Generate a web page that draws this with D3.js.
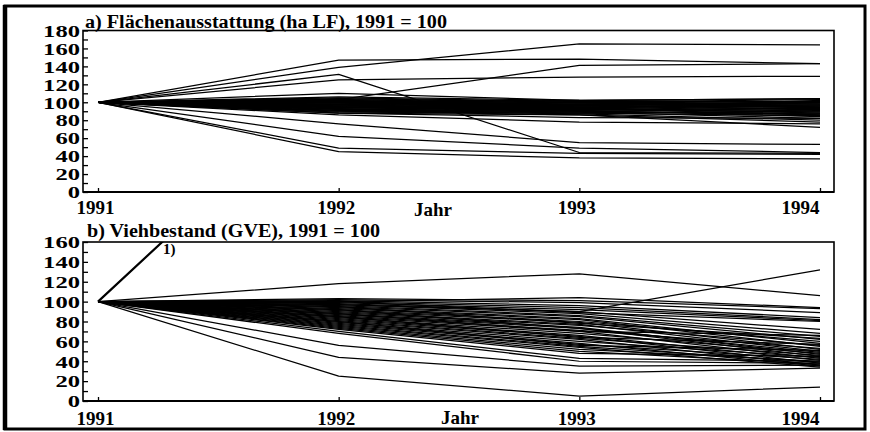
<!DOCTYPE html>
<html>
<head>
<meta charset="utf-8">
<script src="https://cdn.jsdelivr.net/npm/d3@7"></script>
<style>
  body { margin: 0; background: #fff; }
  svg { display: block; }
</style>
</head>
<body>
<svg id="chart" width="870" height="432"></svg>
<script>
// Survey years on the x axis
const years = [1991, 1992, 1993, 1994];

// Tick values of both y axes (labels every 20, marks every 10)
const flaecheTicks = d3.range(0, 181, 10);
const viehTicks = d3.range(0, 161, 10);

const flaecheTitle = "a) Flächenausstattung (ha LF), 1991 = 100";
const viehTitle = "b) Viehbestand (GVE), 1991 = 100";
const xTitle = "Jahr";
const noteLabel = "1)";

// a) Land area per farm, index 1991 = 100 (one row per farm: 1991..1994)
const flaeche = [
  [100, 147, 148, 143],
  [100, 103, 141, 143],
  [100, 131, 44, 43],
  [100, 139, 165, 164],
  [100, 125, 128, 129],
  [100, 110, 102, 100],
  [100, 76, 55, 53],
  [100, 62, 49, 44],
  [100, 49, 43, 42],
  [100, 45, 38, 37],
  [100, 88, 83, 82],
  [100, 86, 78, 76],
  [100, 106, 102, 104],
  [100, 105, 101, 100],
  [100, 104, 100, 103],
  [100, 103, 99, 97],
  [100, 103, 101, 101],
  [100, 102, 98, 95],
  [100, 101, 100, 99],
  [100, 101, 97, 92],
  [100, 100, 99, 98],
  [100, 100, 96, 94],
  [100, 99, 98, 96],
  [100, 99, 95, 90],
  [100, 98, 97, 99],
  [100, 98, 94, 88],
  [100, 97, 96, 95],
  [100, 97, 93, 86],
  [100, 96, 95, 97],
  [100, 96, 92, 89],
  [100, 95, 94, 93],
  [100, 95, 91, 84],
  [100, 94, 93, 96],
  [100, 94, 90, 87],
  [100, 93, 92, 91],
  [100, 93, 89, 82],
  [100, 92, 91, 94],
  [100, 92, 88, 85],
  [100, 91, 90, 92],
  [100, 91, 87, 80],
  [100, 90, 89, 88],
  [100, 90, 86, 78],
  [100, 89, 88, 90],
  [100, 88, 86, 72],
  [100, 102, 96, 100],
  [100, 97, 90, 86],
  [100, 95, 93, 102],
  [100, 100, 102, 104]
];

// b) Livestock per farm (GVE), index 1991 = 100
const vieh = [
  [100, 118, 128, 106],
  [100, 97, 90, 132],
  [100, 100, 104, 94],
  [100, 56, 35, 36],
  [100, 44, 28, 33],
  [100, 25, 5, 14],
  [100, 103, 101, 93],
  [100, 102, 99, 89],
  [100, 101, 96, 84],
  [100, 100, 94, 82],
  [100, 99, 92, 81],
  [100, 98, 90, 72],
  [100, 97, 88, 68],
  [100, 96, 86, 65],
  [100, 95, 85, 62],
  [100, 94, 83, 58],
  [100, 93, 82, 55],
  [100, 92, 80, 60],
  [100, 91, 79, 52],
  [100, 90, 77, 50],
  [100, 89, 76, 56],
  [100, 88, 74, 47],
  [100, 87, 73, 45],
  [100, 86, 71, 53],
  [100, 85, 70, 43],
  [100, 84, 68, 48],
  [100, 83, 66, 41],
  [100, 82, 65, 38],
  [100, 81, 63, 46],
  [100, 80, 62, 36],
  [100, 79, 60, 44],
  [100, 78, 58, 35],
  [100, 77, 57, 42],
  [100, 76, 55, 39],
  [100, 75, 54, 34],
  [100, 74, 52, 40],
  [100, 73, 50, 37],
  [100, 72, 48, 45],
  [100, 70, 43, 40],
  [100, 68, 40, 38],
  [100, 88, 70, 66],
  [100, 95, 78, 63],
  [100, 100, 89, 80],
  [100, 85, 64, 57],
  [100, 92, 73, 49],
  [100, 80, 56, 51]
];

// Farm marked "1)": livestock rises far beyond the axis range
const viehNote = [100, 325, 350, 370];

const svg = d3.select("#chart");
const serif = "'Liberation Serif', 'Times New Roman', serif";

// Outer frame
svg.append("rect")
  .attr("x", 5).attr("y", 6).attr("width", 860).attr("height", 423)
  .attr("fill", "none").attr("stroke", "#000").attr("stroke-width", 3);
svg.append("line")
  .attr("x1", 5).attr("x2", 5).attr("y1", 5).attr("y2", 430)
  .attr("stroke", "#000").attr("stroke-width", 4.5);

const x = d3.scaleLinear().domain([1991, 1994]).range([98, 820]);
const box = { left: 83, right: 834 };

function panel(cfg) {
  const y = d3.scaleLinear().domain([0, cfg.max]).range([cfg.bottom, cfg.top]);
  const g = svg.append("g");

  const clipId = "clip-" + cfg.id;
  svg.append("clipPath").attr("id", clipId)
    .append("rect")
    .attr("x", box.left).attr("y", cfg.top)
    .attr("width", box.right - box.left).attr("height", cfg.bottom - cfg.top);

  // Plot box
  g.append("rect")
    .attr("x", box.left).attr("y", cfg.top)
    .attr("width", box.right - box.left).attr("height", cfg.bottom - cfg.top)
    .attr("fill", "none").attr("stroke", "#000").attr("stroke-width", 1.6);
  g.append("line")
    .attr("x1", box.left).attr("x2", box.right)
    .attr("y1", cfg.bottom).attr("y2", cfg.bottom)
    .attr("stroke", "#000").attr("stroke-width", 2.2);

  // Series
  const line = d3.line().x((d, i) => x(years[i])).y(d => y(d));
  const lines = g.append("g").attr("clip-path", `url(#${clipId})`);
  lines.selectAll("path.farm")
    .data(cfg.series)
    .join("path")
    .attr("class", "farm")
    .attr("d", line)
    .attr("fill", "none")
    .attr("stroke", "#000")
    .attr("stroke-width", 1.25)
    .attr("stroke-linejoin", "round");
  if (cfg.note) {
    lines.append("path")
      .attr("d", line(cfg.note))
      .attr("fill", "none").attr("stroke", "#000").attr("stroke-width", 2.2);
  }

  // Y axis: inward ticks every 10, labels every 20
  const yAxis = d3.axisLeft(y)
    .tickValues(cfg.ticks)
    .tickSizeInner(-5).tickSizeOuter(0).tickPadding(3)
    .tickFormat(d => d % 20 === 0 ? d : "");
  const ya = g.append("g").attr("transform", `translate(${box.left},0)`).call(yAxis);
  ya.select(".domain").remove();
  ya.selectAll(".tick line").attr("stroke", "#000").attr("stroke-width", 1.3);
  ya.selectAll(".tick text")
    .attr("font-family", serif).attr("font-weight", "bold").attr("font-size", 16)
    .attr("fill", "#000").attr("dy", "0.36em")
    .attr("lengthAdjust", "spacingAndGlyphs")
    .each(function(d) {
      const t = d % 20 === 0 ? String(d) : "";
      if (t) d3.select(this).attr("textLength", t.length * 12.3);
    });

  // X axis: short upward ticks, year labels
  const xAxis = d3.axisBottom(x)
    .tickValues(years)
    .tickSizeInner(-4).tickSizeOuter(0).tickPadding(0)
    .tickFormat(d3.format("d"));
  const xa = g.append("g").attr("transform", `translate(0,${cfg.bottom})`).call(xAxis);
  xa.select(".domain").remove();
  xa.selectAll(".tick line").attr("stroke", "#000").attr("stroke-width", 1.3);
  xa.selectAll(".tick text")
    .attr("font-family", serif).attr("font-weight", "bold").attr("font-size", 19)
    .attr("fill", "#000")
    .attr("y", cfg.labelBase - cfg.bottom).attr("dy", 0)
    .attr("dx", (d, i) => i === 0 ? -3 : (i === years.length - 1 ? -20 : -3));

  g.append("text")
    .attr("x", cfg.jahrX).attr("y", cfg.jahrBase)
    .attr("text-anchor", "middle")
    .attr("font-family", serif).attr("font-weight", "bold").attr("font-size", 19)
    .text(xTitle);

  g.append("text")
    .attr("x", cfg.titleX).attr("y", cfg.titleBase)
    .attr("font-family", serif).attr("font-weight", "bold").attr("font-size", 18)
    .attr("textLength", cfg.titleLen).attr("lengthAdjust", "spacingAndGlyphs")
    .text(cfg.title);

  return { y, g };
}

panel({
  id: "a", max: 180, top: 30.5, bottom: 192, ticks: flaecheTicks,
  series: flaeche, title: flaecheTitle, titleX: 85, titleBase: 28, titleLen: 362,
  labelBase: 214, jahrX: 433, jahrBase: 216
});

const pb = panel({
  id: "b", max: 160, top: 242, bottom: 401, ticks: viehTicks,
  series: vieh, note: viehNote, title: viehTitle, titleX: 87, titleBase: 236.5, titleLen: 293,
  labelBase: 425, jahrX: 460, jahrBase: 424
});

pb.g.append("text")
  .attr("x", 163).attr("y", 254)
  .attr("font-family", serif).attr("font-weight", "bold").attr("font-size", 15)
  .text(noteLabel);
</script>
</body>
</html>
